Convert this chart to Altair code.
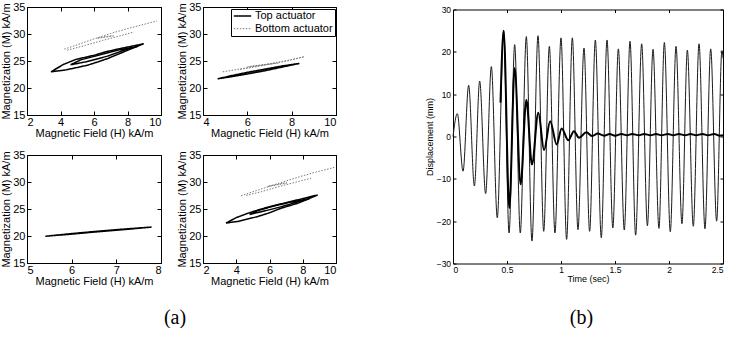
import altair as alt
import pandas as pd

# ---------------- data: hysteresis panels (H in kA/m, M in kA/m) ----------------
SERIES = ["Top actuator", "Bottom actuator"]

TL_TOP1_H = [3.43, 4.23, 5.0, 5.62, 6.2, 6.82, 7.4, 8.0, 8.5, 8.97, 8.2, 7.41, 6.7, 6.02, 5.5, 4.93, 4.2, 3.43]
TL_TOP1_M = [23.0, 23.3, 23.8, 24.23, 24.8, 25.46, 26.2, 26.98, 27.6, 28.2, 27.7, 27.2, 26.7, 26.07, 25.7, 25.3, 24.4, 23.0]
TL_TOP2_H = [4.6, 5.6, 6.8, 8.0, 8.6, 7.4, 6.2, 5.2, 4.6]
TL_TOP2_M = [24.3, 24.9, 25.9, 27.2, 27.7, 27.0, 26.0, 25.2, 24.3]
TL_BOT1_H = [4.23, 5.0, 6.0, 7.0, 8.0, 9.0, 9.75]
TL_BOT1_M = [27.2, 28.0, 29.1, 30.1, 31.0, 31.8, 32.4]
TL_BOT2_H = [4.4, 5.5, 6.5, 7.5, 8.3]
TL_BOT2_M = [27.0, 27.9, 28.8, 29.6, 30.3]
TL_BOT3_H = [6.2, 7.2]
TL_BOT3_M = [29.2, 29.65]
TL_BOT4_H = [6.25, 7.15]
TL_BOT4_M = [29.3, 29.72]

TR_TOP1_H = [4.66, 5.3, 6.0, 6.8, 7.6, 8.35, 7.6, 6.8, 6.0, 5.3, 4.66]
TR_TOP1_M = [21.7, 22.1, 22.6, 23.2, 23.9, 24.55, 24.1, 23.5, 22.9, 22.3, 21.7]
TR_BOT1_H = [4.89, 5.5, 6.2, 7.0, 7.8, 8.57, 7.8, 7.0, 6.2, 5.6]
TR_BOT1_M = [23.0, 23.4, 23.9, 24.5, 25.1, 25.8, 25.0, 24.4, 23.8, 23.4]
TR_BOT2_H = [6.0, 7.4]
TR_BOT2_M = [23.9, 24.6]
TR_BOT3_H = [6.1, 7.3]
TR_BOT3_M = [24.0, 24.6]

BL_TOP1_H = [5.41, 6.0, 6.6, 7.2, 7.79, 7.2, 6.6, 6.0, 5.41]
BL_TOP1_M = [19.95, 20.35, 20.8, 21.2, 21.66, 21.3, 20.9, 20.45, 19.95]

BR_TOP1_H = [3.38, 4.09, 5.29, 6.0, 6.7, 7.7, 8.9, 7.7, 6.49, 5.5, 4.69, 4.0, 3.38]
BR_TOP1_M = [22.4, 22.7, 23.6, 24.3, 25.15, 26.06, 27.6, 26.7, 25.8, 25.0, 24.2, 23.4, 22.4]
BR_TOP2_H = [4.8, 5.8, 6.8, 7.8, 8.4, 7.3, 6.2, 5.2, 4.8]
BR_TOP2_M = [24.0, 24.7, 25.5, 26.4, 26.9, 26.3, 25.5, 24.6, 24.0]
BR_BOT1_H = [4.29, 5.3, 6.3, 7.3, 8.5, 9.9]
BR_BOT1_M = [27.45, 28.5, 29.5, 30.5, 31.6, 32.7]
BR_BOT2_H = [4.6, 5.5, 6.5, 7.5, 8.5]
BR_BOT2_M = [27.5, 28.2, 29.1, 29.9, 30.7]
BR_BOT3_H = [5.9, 7.1]
BR_BOT3_M = [29.15, 29.85]
BR_BOT4_H = [5.95, 7.05]
BR_BOT4_M = [29.25, 29.9]

M_TICKS = [15, 20, 25, 30, 35]

# ---------------- data: displacement vs time ----------------
FREE_T = [0, 0.04, 0.093, 0.145, 0.198, 0.247, 0.302, 0.355, 0.41, 0.469, 0.519, 0.571, 0.623,
          0.679, 0.731, 0.787, 0.84, 0.892, 0.944, 1.0, 1.052, 1.105, 1.157, 1.213, 1.265, 1.318,
          1.373, 1.426, 1.48, 1.531, 1.586, 1.639, 1.691, 1.747, 1.8, 1.852, 1.907, 1.957, 2.012,
          2.065, 2.12, 2.17, 2.225, 2.278, 2.333, 2.386, 2.441, 2.49, 2.5]
FREE_D = [0, 5.4, -8.2, 12.1, -11.7, 13.1, -13.5, 16.5, -19.2, 25.0, -22.8, 21.7, -22.8,
          23.6, -24.7, 23.8, -22.4, 21.3, -22.8, 23.3, -24.3, 23.3, -22.0, 20.9, -22.4, 22.8,
          -23.9, 22.8, -21.6, 20.7, -22.1, 22.5, -23.3, 21.9, -21.1, 20.6, -21.7, 22.2, -22.5,
          21.3, -20.6, 20.4, -21.2, 21.9, -21.8, 20.7, -20.0, 20.3, 18.5]
CTRL_T = [0.44, 0.469, 0.521, 0.571, 0.626, 0.679, 0.731, 0.79, 0.843, 0.9, 0.96, 1.006, 1.068,
          1.12, 1.167, 1.235, 1.29, 1.34, 1.4, 1.45, 1.5, 1.56, 1.61, 1.66, 1.72, 1.77, 1.83, 1.88,
          1.93, 1.99, 2.04, 2.09, 2.15, 2.2, 2.25, 2.31, 2.36, 2.42, 2.47, 2.5]
CTRL_D = [8.0, 25.0, -16.9, 16.2, -11.3, 8.7, -6.6, 5.6, -3.2, 3.6, -1.9, 1.9, -0.9,
          1.26, -0.3, 1.0, 0.1, 0.7, 0.2, 0.6, 0.2, 0.6, 0.3, 0.6, 0.3, 0.6, 0.3, 0.6,
          0.3, 0.6, 0.3, 0.6, 0.3, 0.6, 0.3, 0.6, 0.3, 0.6, 0.2, 0.3]
T_TICKS = [0, 0.5, 1, 1.5, 2, 2.5]
D_TICKS = [-30, -20, -10, 0, 10, 20, 30]

FONT = "Liberation Sans"
SERIF = "Liberation Serif"


def frame(segments):
    rows = []
    for sid, (series, hs, ms) in enumerate(segments):
        for i, (h, m) in enumerate(zip(hs, ms)):
            rows.append({"H": h, "M": m, "series": series, "seg": sid, "idx": i})
    return pd.DataFrame(rows)


LEGEND = alt.Legend(title=None, orient="none", legendX=204, legendY=2,
                    strokeColor="black", fillColor="white", padding=2,
                    labelFont=FONT, labelFontSize=11, labelColor="black",
                    symbolType="stroke", symbolSize=300, symbolStrokeWidth=1.3,
                    clipHeight=10, rowPadding=1.7, labelOffset=3, cornerRadius=0)

PANEL_H = 108


def hyst_panel(df, xdom, xvals, width, caption=None):
    xs = alt.Scale(domain=xdom, nice=False, zero=False)
    ys = alt.Scale(domain=[15, 35], nice=False, zero=False)
    lines = alt.Chart(df).mark_line(clip=True).encode(
        x=alt.X("H:Q", scale=xs, axis=alt.Axis(
            values=xvals, format="d", title="Magnetic Field (H) kA/m", ticks=False, tickSize=0,
            labelPadding=1, titlePadding=0, labelFontSize=11, titleFontSize=11)),
        y=alt.Y("M:Q", scale=ys, axis=alt.Axis(
            values=M_TICKS, format="d", title="Magnetization (M) kA/m", ticks=False, tickSize=0,
            labelPadding=2, titlePadding=1, labelFontSize=11, titleFontSize=11)),
        color=alt.Color("series:N", scale=alt.Scale(domain=SERIES, range=["#000000", "#7a7a7a"]),
                        legend=LEGEND),
        strokeDash=alt.StrokeDash("series:N", scale=alt.Scale(domain=SERIES, range=[[1, 0], [1.5, 1.5]]),
                                  legend=LEGEND),
        strokeWidth=alt.StrokeWidth("series:N", scale=alt.Scale(domain=SERIES, range=[1.5, 1.0]),
                                    legend=None),
        detail="seg:N",
        order="idx:Q",
    )
    bottom_axis = dict(orient="bottom", values=xvals, labels=False, tickSize=4, offset=-4)
    if caption is not None:
        bottom_axis.update(title=caption["text"], titleFont=SERIF, titleFontSize=20,
                           titleFontWeight="normal", titlePadding=caption["pad"], titleX=caption["x"])
    else:
        bottom_axis.update(title=None)
    ax1 = alt.Chart(df).mark_line(opacity=0).encode(
        x=alt.X("H:Q", scale=xs, axis=alt.Axis(**bottom_axis)),
        y=alt.Y("M:Q", scale=ys, axis=alt.Axis(orient="left", values=M_TICKS, labels=False,
                                                title=None, tickSize=4, offset=-4)),
        detail="seg:N", order="idx:Q")
    ax2 = alt.Chart(df).mark_line(opacity=0).encode(
        x=alt.X("H:Q", scale=xs, axis=alt.Axis(orient="top", values=xvals, labels=False,
                                                title=None, tickSize=4, offset=-4)),
        y=alt.Y("M:Q", scale=ys, axis=alt.Axis(orient="right", values=M_TICKS, labels=False,
                                                title=None, tickSize=4, offset=-4)),
        detail="seg:N", order="idx:Q")
    return alt.layer(lines, ax1, ax2).resolve_axis(x="independent", y="independent").properties(
        width=width, height=PANEL_H)


tl = hyst_panel(frame([
    ("Top actuator", TL_TOP1_H, TL_TOP1_M), ("Top actuator", TL_TOP2_H, TL_TOP2_M),
    ("Bottom actuator", TL_BOT1_H, TL_BOT1_M), ("Bottom actuator", TL_BOT2_H, TL_BOT2_M),
    ("Bottom actuator", TL_BOT3_H, TL_BOT3_M), ("Bottom actuator", TL_BOT4_H, TL_BOT4_M)]),
    [2, 10], [2, 4, 6, 8, 10], 134)
tr = hyst_panel(frame([
    ("Top actuator", TR_TOP1_H, TR_TOP1_M),
    ("Bottom actuator", TR_BOT1_H, TR_BOT1_M), ("Bottom actuator", TR_BOT2_H, TR_BOT2_M),
    ("Bottom actuator", TR_BOT3_H, TR_BOT3_M)]),
    [4, 10], [4, 6, 8, 10], 133)
bl = hyst_panel(frame([("Top actuator", BL_TOP1_H, BL_TOP1_M)]),
                [5, 8], [5, 6, 7, 8], 134, caption={"text": "(a)", "pad": 43.5, "x": 147.5})
br = hyst_panel(frame([
    ("Top actuator", BR_TOP1_H, BR_TOP1_M), ("Top actuator", BR_TOP2_H, BR_TOP2_M),
    ("Bottom actuator", BR_BOT1_H, BR_BOT1_M), ("Bottom actuator", BR_BOT2_H, BR_BOT2_M),
    ("Bottom actuator", BR_BOT3_H, BR_BOT3_M), ("Bottom actuator", BR_BOT4_H, BR_BOT4_M)]),
    [2, 10], [2, 4, 6, 8, 10], 133)

left_grid = alt.concat(tl, tr, bl, br, columns=2, spacing={"row": 40, "column": 42}, bounds="flush")

# ---------------- right panel ----------------
free_df = pd.DataFrame({"t": FREE_T, "d": FREE_D})
ctrl_df = pd.DataFrame({"t": CTRL_T, "d": CTRL_D})
ts = alt.Scale(domain=[0, 2.5], nice=False, zero=False)
ds = alt.Scale(domain=[-30, 30], nice=False, zero=False)

free_line = alt.Chart(free_df).mark_line(interpolate="monotone", color="#1a1a1a", strokeWidth=1).encode(
    x=alt.X("t:Q", scale=ts, axis=alt.Axis(values=T_TICKS, format=".1~f", title="Time (sec)", ticks=False,
                                           tickSize=0, labelPadding=2, titlePadding=0,
                                           labelFontSize=8.5, titleFontSize=9)),
    y=alt.Y("d:Q", scale=ds, axis=alt.Axis(values=D_TICKS, format="d", title="Displacement (mm)",
                                           ticks=False, tickSize=0, labelPadding=2.4, titlePadding=1.5,
                                           labelFontSize=8.5, titleFontSize=9)),
)
ctrl_line = alt.Chart(ctrl_df).mark_line(interpolate="monotone", color="black", strokeWidth=2).encode(
    x=alt.X("t:Q", scale=ts, axis=None),
    y=alt.Y("d:Q", scale=ds, axis=None),
)
r_ax1 = alt.Chart(free_df).mark_line(opacity=0).encode(
    x=alt.X("t:Q", scale=ts, axis=alt.Axis(orient="bottom", values=T_TICKS, labels=False, tickSize=3,
                                           offset=-3, title="(b)", titleFont=SERIF, titleFontSize=20,
                                           titleFontWeight="normal", titlePadding=43.5, titleX=128)),
    y=alt.Y("d:Q", scale=ds, axis=alt.Axis(orient="left", values=D_TICKS, labels=False, title=None,
                                           tickSize=3, offset=-3)),
)
r_ax2 = alt.Chart(free_df).mark_line(opacity=0).encode(
    x=alt.X("t:Q", scale=ts, axis=alt.Axis(orient="top", values=T_TICKS, labels=False, title=None,
                                           tickSize=3, offset=-3)),
    y=alt.Y("d:Q", scale=ds, axis=alt.Axis(orient="right", values=D_TICKS, labels=False, title=None,
                                           tickSize=3, offset=-3)),
)
right = alt.layer(free_line, ctrl_line, r_ax1, r_ax2).resolve_axis(
    x="independent", y="independent").properties(width=270, height=254)

# a thin invisible strip that lowers the right panel by a few pixels
SPACER_V = [0]
spacer = alt.Chart(pd.DataFrame({"v": SPACER_V})).mark_point(opacity=0).encode(
    x=alt.X("v:Q", axis=None), y=alt.Y("v:Q", axis=None)
).properties(width=270, height=1, view=alt.ViewBackground(stroke="transparent"))

right_col = alt.vconcat(spacer, right, spacing=1.5, bounds="flush")

chart = alt.hconcat(left_grid, right_col, spacing=88).properties(
    padding={"left": 0, "top": 0, "right": 0, "bottom": 0}
).configure_view(stroke="black", strokeWidth=1).configure_axis(
    labelFont=FONT, titleFont=FONT, labelColor="black", titleColor="black",
    titleFontWeight="normal", tickColor="black", grid=False, domain=False
).configure_title(font=FONT)

chart.save("out.html", embed_options={"renderer": "svg", "actions": False})
